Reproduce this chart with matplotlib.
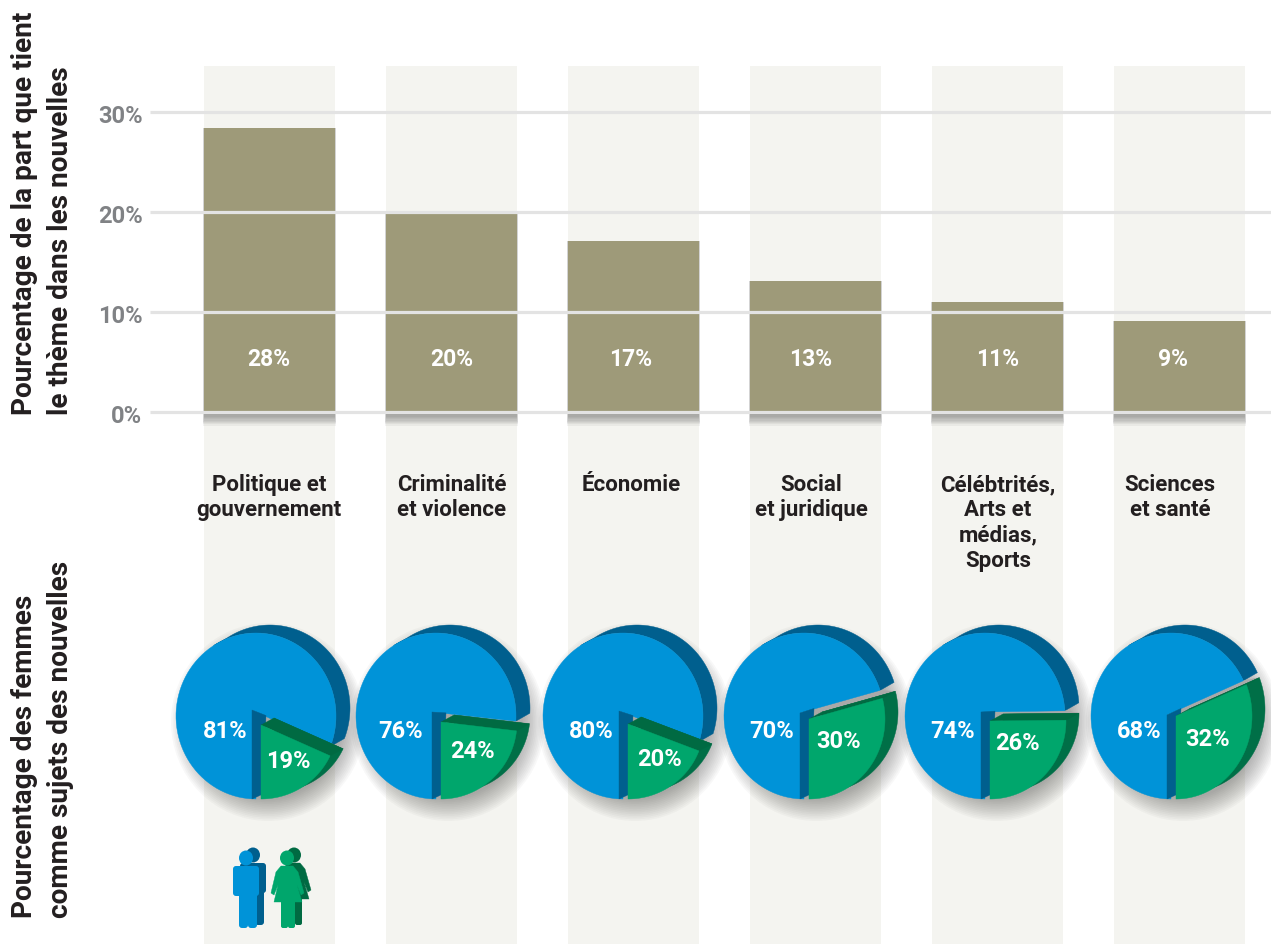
import numpy as np
import matplotlib
matplotlib.use('Agg')
import matplotlib.pyplot as plt
from matplotlib.patches import Polygon, Ellipse, FancyBboxPatch

plt.rcParams['font.family'] = ['Roboto', 'DejaVu Sans']

# data
themes = ['Politique et\ngouvernement', 'Criminalité\net violence', 'Économie',
          'Social\net juridique', 'Célébtrités,\nArts et\nmédias,\nSports',
          'Sciences\net santé']
theme_share = [28.4, 19.8, 17.1, 13.1, 11.0, 9.1]
theme_labels = ['28%', '20%', '17%', '13%', '11%', '9%']
men_pct = [81, 76, 80, 70, 74, 68]
women_pct = [19, 24, 20, 30, 26, 32]
y_ticks = [0, 10, 20, 30]

# layout, pixels
W, H = 1271, 944
pie_x = [252, 432, 619, 800, 981, 1167]
blue_apex_y = [710, 712, 711, 713, 712, 715]
green_apex_y = [725, 722, 724, 719, 721, 716]
blue_text_x = [225, 401, 591, 772, 953, 1139]
green_text = [(288, 761), (472, 752), (660, 759), (839, 741), (1017, 743), (1208, 740)]
label_x = [269, 452, 631, 811, 998, 1170]
bar_text_x = [269, 452, 631, 811, 998, 1173]

BLUE, BLUE_D = '#0093d8', '#005f8e'
GREEN, GREEN_D = '#00a66c', '#006a42'
KHAKI = '#9e9a79'
BAND = '#f4f4f0'
GRID = '#e3e3e3'
DARK = '#231f20'
GREY = '#808285'

fig = plt.figure(figsize=(W / 100, H / 100), dpi=100, facecolor='white')

# bar axes covers the whole figure: 10 px per percent, 182 px per category
ax = fig.add_axes([0, 0, 1, 1])
ax.set_xlim(-269.5 / 182, (W - 269.5) / 182)
ax.set_ylim((412 - H) / 10, 41.2)
ax.axis('off')

xs = np.arange(len(themes))
bw = 131 / 182
ax.bar(xs, [87.8] * len(xs), bottom=-53.2, width=bw, color=BAND, zorder=1)

# soft shadow under the bars
for i in range(10):
    ax.bar(xs, np.array(theme_share) + 0.2 + 0.13 * i, bottom=-0.2 - 0.13 * i,
           width=bw + 0.002 * (i - 3), color='#3a3a3a', alpha=0.06, lw=0, zorder=2)
ax.bar(xs, theme_share, width=bw, color=KHAKI, zorder=3)
for t in y_ticks:
    ax.plot([150 / 182 - 269.5 / 182, (W - 269.5) / 182], [t, t], color=GRID, lw=2.3,
            solid_capstyle='butt', zorder=4)
    ax.text(-127 / 182, t - 0.45, f'{t}%', color=GREY, fontsize=17, fontweight='bold',
            ha='right', va='center', zorder=5)

# overlay in pixel coordinates for the pies, text and icons
ov = fig.add_axes([0, 0, 1, 1], facecolor='none')
ov.set_xlim(0, W)
ov.set_ylim(H, 0)
ov.axis('off')

for x, lab in zip(bar_text_x, theme_labels):
    ov.text(x, 359, lab, color='white', fontsize=16.5, fontweight='bold',
            ha='center', va='center', zorder=5)


def arc(cx, cy, rx, ry, a0, a1, n=90):
    t = np.radians(np.linspace(a0, a1, n))
    return np.column_stack([cx + rx * np.cos(t), cy - ry * np.sin(t)])


def poly(pts, color, z=2, **kw):
    ov.add_patch(Polygon(pts, closed=True, fc=color, ec=color, lw=0.3, zorder=z, **kw))


def draw_pie(ax_x, ay, gy, men, women):
    cx, cy, rx, ry = ax_x + 4, 716, 80, 83
    end = 270 - 3.6 * men
    off = np.array([14, -8])
    # shadow, pushed to the lower right
    for i in range(14):
        ov.add_patch(Ellipse((cx + 12, cy + 6), 2 * (rx + 17 - 1.7 * i), 2 * (ry + 16 - 1.7 * i),
                             fc='#303030', ec='none', alpha=0.032, zorder=1))
    # rim of the blue part
    a_start = 122
    rim = arc(cx, cy, rx, ry, end, a_start)
    poly(np.vstack([rim + off, rim[::-1]]), BLUE_D)

    # green geometry
    gx = ax_x + 9
    grx, gry = 76, 799 - gy
    gend = 270 + 3.6 * women - 3
    gs = arc(gx, gy, grx, gry, 270, gend)
    goff = np.array([13, -7])
    g_apex = np.array([gx, gy])
    blue_end = arc(cx, cy, rx, ry, end, end, 1)[0]

    # grey gap between the two parts
    wall_top = np.array([ax_x + 14, ay + 14 * np.tan(np.radians(-end))])
    poly([wall_top, blue_end, gs[-1] + goff, g_apex + goff], '#a9a9a9', z=2)

    # blue top
    pts = arc(cx, cy, rx, ry, 270, 270 - 3.6 * men)
    poly(np.vstack([[ax_x, ay], pts]), BLUE, z=3)
    # inner wall
    poly([[ax_x, ay], wall_top, [ax_x + 11, 794], [ax_x, 799]], BLUE_D, z=4)

    # green extrusion, then its top wall, then the face
    poly(np.vstack([g_apex + goff, gs + goff]), '#006f47', z=5)
    poly([g_apex, g_apex + goff, gs[-1] + goff, gs[-1]], GREEN_D, z=6)
    poly(np.vstack([g_apex, gs]), GREEN, z=7)


for i in range(len(men_pct)):
    draw_pie(pie_x[i], blue_apex_y[i], green_apex_y[i], men_pct[i], women_pct[i])
    ov.text(blue_text_x[i], 731, f'{men_pct[i]}%', color='white', fontsize=17,
            fontweight='bold', ha='center', va='center', zorder=9)
    ov.text(green_text[i][0], green_text[i][1], f'{women_pct[i]}%', color='white', fontsize=17,
            fontweight='bold', ha='center', va='center', zorder=9)


def rrect(x, y, w, h, color, z, r=3):
    ov.add_patch(FancyBboxPatch((x + r, y + r), w - 2 * r, h - 2 * r,
                                boxstyle=f'round,pad={r}', fc=color, ec='none', zorder=z))


def man(dx, dy, color, z):
    ov.add_patch(Ellipse((246 + dx, 858 + dy), 14, 15, fc=color, ec='none', zorder=z))
    rrect(233 + dx, 866 + dy, 26, 30, color, z)
    rrect(239 + dx, 870 + dy, 9, 58, color, z)
    rrect(248 + dx, 870 + dy, 9, 58, color, z)


def woman(dx, dy, color, z):
    ov.add_patch(Ellipse((287 + dx, 858 + dy), 14, 15, fc=color, ec='none', zorder=z))
    poly([(281 + dx, 866 + dy), (293 + dx, 866 + dy), (298 + dx, 872 + dy), (304 + dx, 893 + dy),
          (301 + dx, 895 + dy), (297 + dx, 885 + dy), (302 + dx, 902 + dy), (274 + dx, 902 + dy),
          (278 + dx, 885 + dy), (274 + dx, 895 + dy), (271 + dx, 893 + dy), (276 + dx, 872 + dy)],
         color, z=z)
    rrect(281 + dx, 898 + dy, 7, 30, color, z, r=2)
    rrect(288 + dx, 898 + dy, 7, 30, color, z, r=2)


man(7, -3, BLUE_D, 3)
man(0, 0, BLUE, 4)
woman(7, -3, GREEN_D, 3)
woman(0, 0, GREEN, 4)

# category labels
for x, lab in zip(label_x, themes):
    ov.text(x, 474, lab, color=DARK, fontsize=16, fontweight='bold', ha='center', va='top',
            linespacing=1.19, zorder=9)

# axis titles
for x, y, s in [(25, 415, 'Pourcentage de la part que tient'),
                (61, 415, 'le thème dans les nouvelles'),
                (25, 918, 'Pourcentage des femmes'),
                (61, 918, 'comme sujets des nouvelles')]:
    ov.text(x, y, s, color=DARK, fontsize=20.2, fontweight='bold', rotation=90,
            ha='center', va='bottom', zorder=9)

fig.savefig('out.png', dpi=100)
